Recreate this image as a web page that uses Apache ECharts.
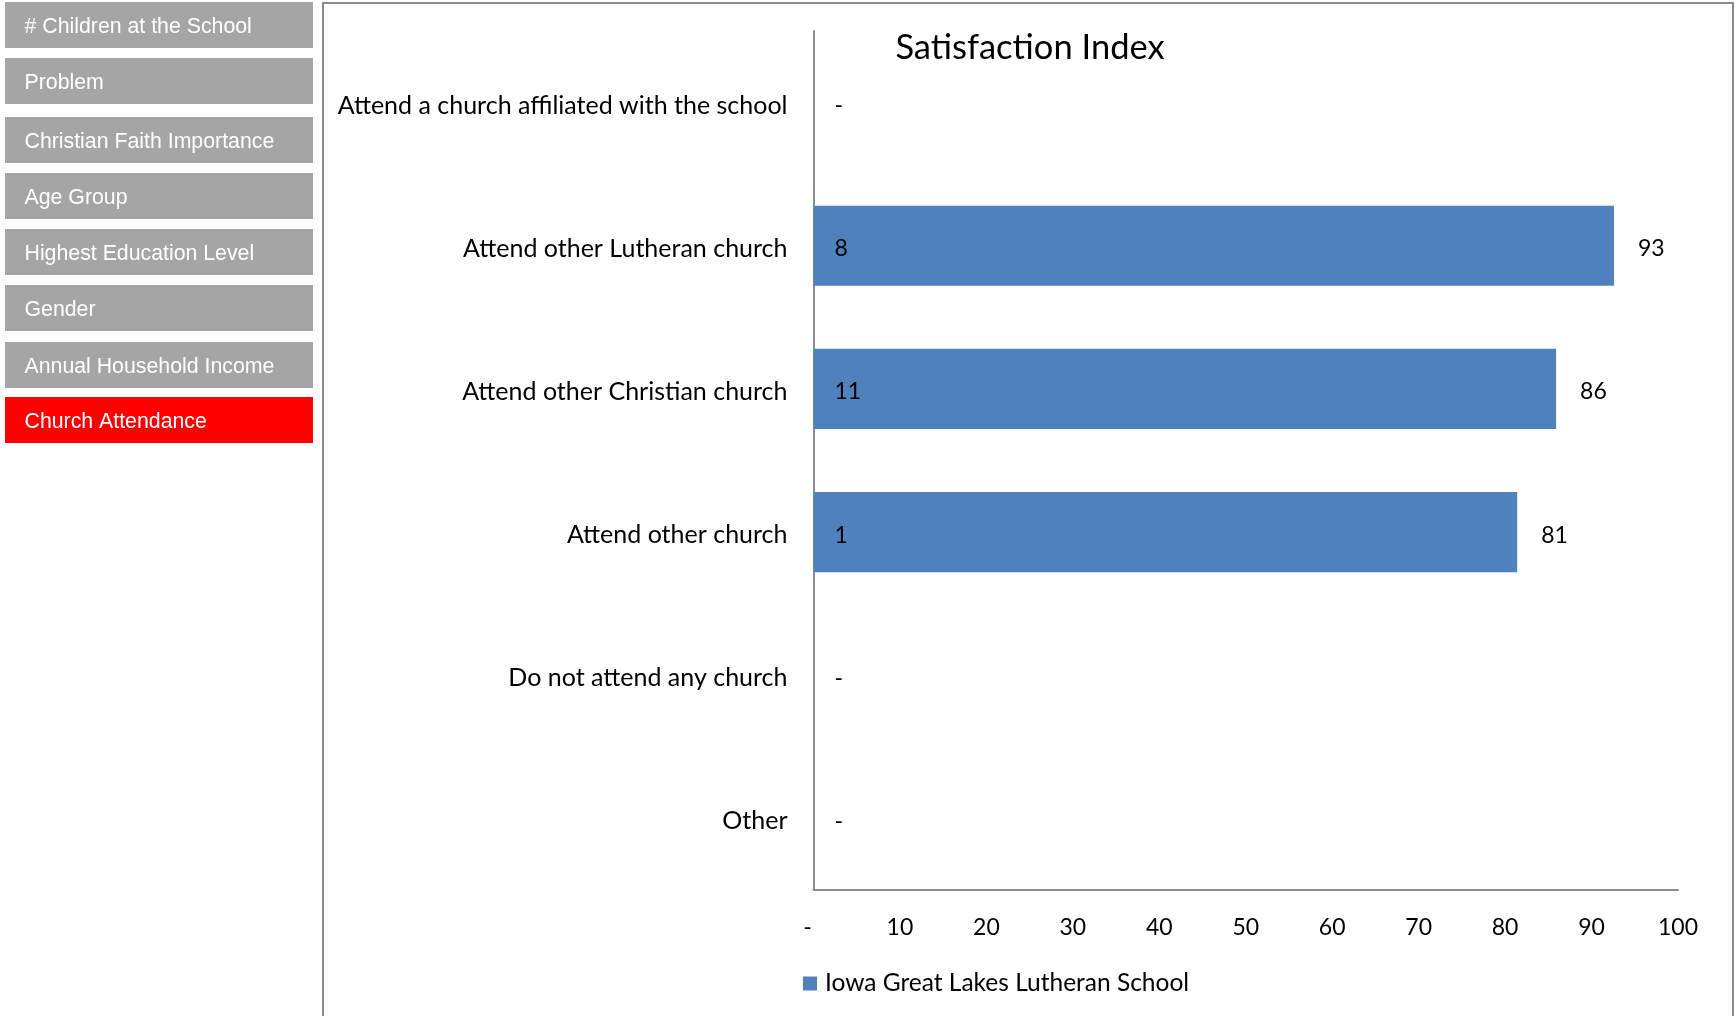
<!DOCTYPE html>
<html>
<head>
<meta charset="utf-8">
<script src="https://cdn.jsdelivr.net/npm/echarts@6/dist/echarts.min.js"></script>
<style>
  html, body { margin: 0; padding: 0; background: #fff; }
  #chart { width: 1736px; height: 1016px; }
</style>
</head>
<body>
<div id="chart"></div>
<script>
// ---- data ----
const menuItems = [
  '# Children at the School',
  'Problem',
  'Christian Faith Importance',
  'Age Group',
  'Highest Education Level',
  'Gender',
  'Annual Household Income',
  'Church Attendance'
];
const activeMenu = 'Church Attendance';
const menuTops = [2, 58, 117, 173, 229, 285, 342, 397];

const categories = [
  'Attend a church affiliated with the school',
  'Attend other Lutheran church',
  'Attend other Christian church',
  'Attend other church',
  'Do not attend any church',
  'Other'
];
const satisfaction = [0, 92.6, 85.9, 81.4, 0, 0];
const respondents = [0, 8, 11, 1, 0, 0];
const xTicks = [0, 10, 20, 30, 40, 50, 60, 70, 80, 90, 100];
const seriesName = 'Iowa Great Lakes Lutheran School';
const chartTitle = 'Satisfaction Index';

// ---- chart ----
const chart = echarts.init(document.getElementById('chart'), null, { renderer: 'canvas' });
const FONT = 'Lato';

const graphics = [
  {
    type: 'rect', z: 0, silent: true,
    shape: { x: 323, y: 3, width: 1410, height: 1030 },
    style: { fill: '#fff', stroke: '#8c8c8c', lineWidth: 2 }
  }
];
menuItems.forEach((m, i) => {
  graphics.push({
    type: 'group', x: 5, y: menuTops[i],
    children: [
      { type: 'rect', shape: { x: 0, y: 0, width: 308, height: 46 },
        style: { fill: m === activeMenu ? '#FF0000' : '#A5A5A5' } },
      { type: 'text', x: 19.5, y: 25,
        style: { text: m, fill: '#fff', font: '21.3px "Liberation Sans", Arial, sans-serif',
                 verticalAlign: 'middle', align: 'left' } }
    ]
  });
});

chart.setOption({
  animation: false,
  backgroundColor: '#fff',
  title: {
    text: chartTitle,
    left: 1025,
    top: 25,
    textAlign: 'center',
    textStyle: { fontFamily: FONT, fontSize: 34.5, fontWeight: 'normal', color: '#000' }
  },
  graphic: graphics,
  legend: {
    data: [seriesName],
    left: 803,
    top: 971,
    padding: 0,
    itemWidth: 14,
    itemHeight: 14,
    icon: 'rect',
    textStyle: { fontFamily: FONT, fontSize: 24.5, color: '#000', padding: [4, 0, 0, 3] }
  },
  grid: { left: 813.5, right: 58, top: 31, bottom: 126, containLabel: false },
  xAxis: {
    type: 'value',
    min: 0, max: 100, interval: 10,
    axisLine: { show: true, lineStyle: { color: '#8e8e8e', width: 2 } },
    axisTick: { show: false },
    splitLine: { show: false },
    axisLabel: {
      margin: 26,
      fontFamily: FONT, fontSize: 23, color: '#000',
      formatter: v => (xTicks.indexOf(v) >= 0 ? (v === 0 ? '{d|-}' : String(v)) : ''),
      rich: { d: { fontFamily: FONT, fontSize: 23, color: '#000', padding: [0, 12, 0, 0] } }
    }
  },
  yAxis: {
    type: 'category',
    data: categories,
    inverse: true,
    axisLine: { show: true, lineStyle: { color: '#8e8e8e', width: 2 } },
    axisTick: { show: false },
    splitLine: { show: false },
    axisLabel: {
      margin: 26,
      fontFamily: FONT, fontSize: 25, color: '#000',
      formatter: v => '{c|' + v + '}',
      rich: { c: { fontFamily: FONT, fontSize: 25, color: '#000', padding: [6, 0, 0, 0] } }
    }
  },
  series: [
    {
      name: seriesName,
      type: 'bar',
      data: satisfaction,
      barCategoryGap: '44%',
      itemStyle: { color: '#4F81BD' },
      label: {
        show: true,
        position: 'insideLeft',
        distance: 21,
        offset: [0, 3],
        fontFamily: FONT, fontSize: 23, color: '#000',
        formatter: p => (respondents[p.dataIndex] ? String(respondents[p.dataIndex]) : '-')
      },
      z: 2
    },
    {
      name: 'value-labels',
      type: 'bar',
      data: satisfaction,
      barGap: '-100%',
      barCategoryGap: '44%',
      silent: true,
      itemStyle: { color: 'rgba(0,0,0,0)' },
      label: {
        show: true,
        position: 'right',
        distance: 24,
        offset: [0, 3],
        fontFamily: FONT, fontSize: 23, color: '#000',
        formatter: p => (p.value > 0 ? String(Math.round(p.value)) : '')
      },
      z: 3
    }
  ]
});
</script>
</body>
</html>
